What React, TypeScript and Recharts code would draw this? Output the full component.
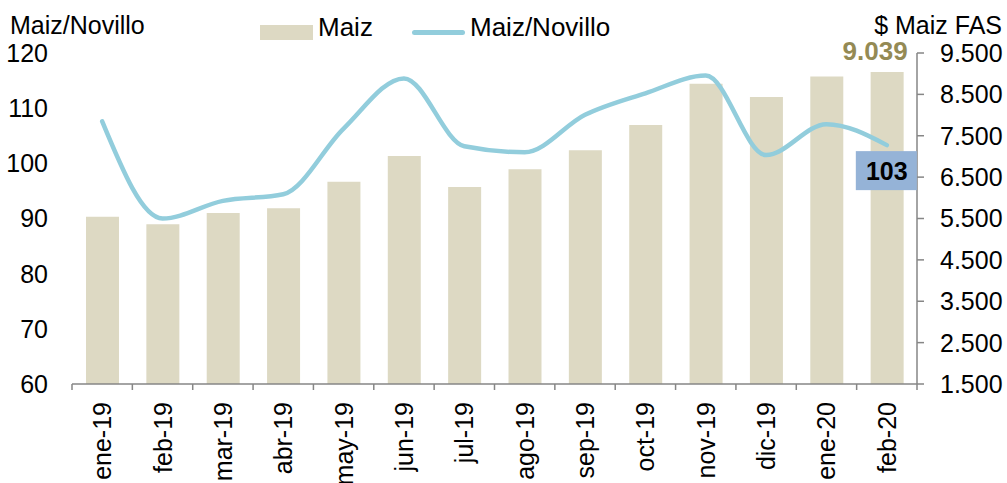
import { Bar, ComposedChart, Legend, Line, XAxis, YAxis } from "recharts";

const months = [
  "ene-19", "feb-19", "mar-19", "abr-19", "may-19", "jun-19", "jul-19",
  "ago-19", "sep-19", "oct-19", "nov-19", "dic-19", "ene-20", "feb-20",
];
const maizFas = [5540, 5360, 5630, 5750, 6390, 7010, 6260, 6690, 7150, 7760, 8755, 8435, 8930, 9039];
const maizNovillo = [107.6, 90.0, 93.2, 94.4, 106.3, 115.4, 103.1, 102.0, 108.8, 112.7, 115.9, 101.5, 107.1, 103.3];

const leftTicks = [60, 70, 80, 90, 100, 110, 120];
const rightTicks = [1500, 2500, 3500, 4500, 5500, 6500, 7500, 8500, 9500];

const data = months.map((month, i) => ({ month, maiz: maizFas[i], novillo: maizNovillo[i] }));

const W = 1007;
const H = 483;
const PLOT_LEFT = 72;
const PLOT_RIGHT = 917;
const BAND = (PLOT_RIGHT - PLOT_LEFT) / months.length;
const FONT = "'Liberation Sans', Arial, sans-serif";
const AXIS = "#868686";
const BAR = "#ddd9c3";
const LINE = "#92cddc";

const fmt = (n: number) => String(n).replace(/\B(?=(\d{3})+(?!\d))/g, ".");

function MonthTick(props: any) {
  const { x, y, payload, index } = props;
  const last = index === months.length - 1;
  return (
    <g>
      <line x1={x - BAND / 2} x2={x - BAND / 2} y1={y} y2={y + 6} stroke={AXIS} strokeWidth={1.5} />
      {last && <line x1={x + BAND / 2} x2={x + BAND / 2} y1={y} y2={y + 6} stroke={AXIS} strokeWidth={1.5} />}
      <text
        transform={`translate(${x + 9},${y + 18}) rotate(-90)`}
        textAnchor="end"
        fontSize={25}
        fill="#000"
        fontFamily={FONT}
      >
        {payload.value}
      </text>
    </g>
  );
}

function BarValueLabel(props: any) {
  const { x, y, width, value, index } = props;
  if (index !== months.length - 1) return null;
  return (
    <text x={x + width + 4} y={y - 12} textAnchor="end" fontSize={26} fontWeight="bold" fill="#948a54" fontFamily={FONT}>
      {fmt(value)}
    </text>
  );
}

function LineValueLabel(props: any) {
  const { x, y, value, index } = props;
  if (index !== months.length - 1) return null;
  return (
    <g>
      <rect x={x - 31} y={y + 6} width={61} height={39} fill="#95b3d7" />
      <text x={x} y={y + 26} dy="0.355em" textAnchor="middle" fontSize={25} fontWeight="bold" fill="#000" fontFamily={FONT}>
        {Math.round(value)}
      </text>
    </g>
  );
}

function ChartLegend() {
  return (
    <div style={{ position: "relative", height: 50, fontFamily: FONT, fontSize: 26, color: "#000" }}>
      <div style={{ position: "absolute", left: 260, top: 25, width: 53, height: 15, background: BAR }} />
      <span style={{ position: "absolute", left: 318, top: 12, lineHeight: "30px" }}>Maiz</span>
      <div style={{ position: "absolute", left: 412, top: 30, width: 53, height: 5, borderRadius: 3, background: LINE }} />
      <span style={{ position: "absolute", left: 470, top: 12, lineHeight: "30px" }}>Maiz/Novillo</span>
    </div>
  );
}

export default function App() {
  return (
    <div style={{ position: "absolute", left: 0, top: 0, width: W, height: H, background: "#fff", fontFamily: FONT }}>
      <div style={{ position: "absolute", left: 10, top: 10, fontSize: 25, lineHeight: "30px", color: "#000" }}>
        Maiz/Novillo
      </div>
      <div style={{ position: "absolute", right: 5, top: 10, fontSize: 25, lineHeight: "30px", color: "#000" }}>
        $ Maiz FAS
      </div>
      <ComposedChart width={W} height={H} data={data} margin={{ top: 53, right: 0, bottom: 0, left: 0 }} style={{ fontFamily: FONT }}>
        <XAxis
          dataKey="month"
          interval={0}
          height={99}
          tickLine={false}
          tickSize={0}
          tickMargin={0}
          axisLine={{ stroke: AXIS, strokeWidth: 1.5 }}
          tick={<MonthTick />}
        />
        <YAxis
          yAxisId="left"
          orientation="left"
          width={72}
          domain={[60, 120]}
          ticks={leftTicks}
          axisLine={false}
          tickLine={false}
          tickSize={0}
          tickMargin={24}
          tick={{ fontSize: 25, fill: "#000" }}
        />
        <YAxis
          yAxisId="right"
          orientation="right"
          width={90}
          domain={[1500, 9500]}
          ticks={rightTicks}
          axisLine={{ stroke: AXIS, strokeWidth: 1.5 }}
          tickLine={{ stroke: AXIS, strokeWidth: 1.5 }}
          tickSize={7}
          tickMargin={16}
          tickFormatter={fmt}
          tick={{ fontSize: 25, fill: "#000", textAnchor: "start" }}
        />
        <Legend verticalAlign="middle" content={<ChartLegend />} wrapperStyle={{ top: 0, left: 0, width: W }} />
        <Bar
          yAxisId="right"
          dataKey="maiz"
          name="Maiz"
          fill={BAR}
          barSize={33}
          isAnimationActive={false}
          label={<BarValueLabel />}
        />
        <Line
          yAxisId="left"
          type="monotone"
          dataKey="novillo"
          name="Maiz/Novillo"
          stroke={LINE}
          strokeWidth={4.5}
          strokeLinecap="round"
          dot={false}
          isAnimationActive={false}
          label={<LineValueLabel />}
        />
      </ComposedChart>
    </div>
  );
}
